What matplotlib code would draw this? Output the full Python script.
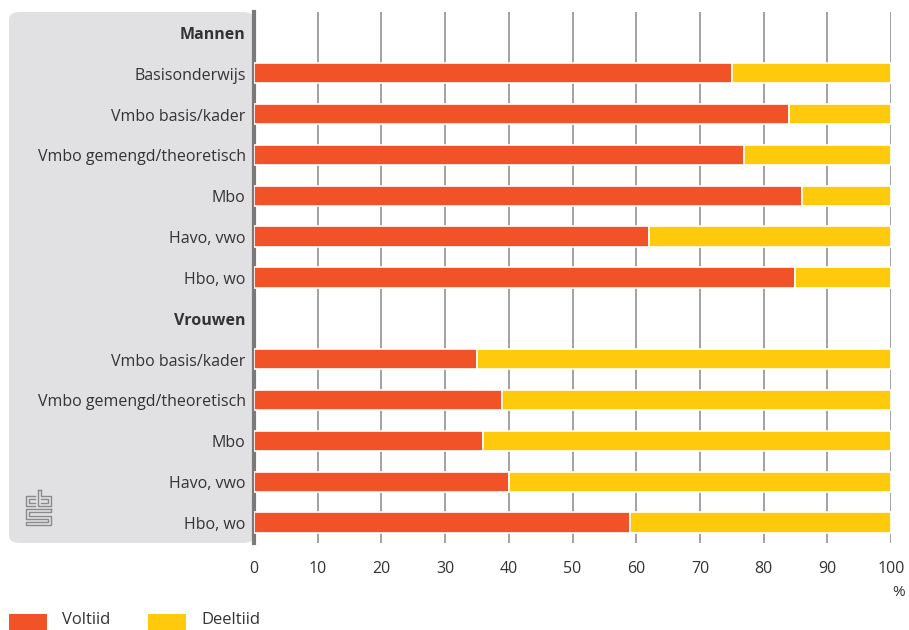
import matplotlib
matplotlib.use("Agg")
import matplotlib.pyplot as plt
from matplotlib.patches import FancyBboxPatch, Rectangle
from matplotlib.lines import Line2D

categories = ["Mannen", "Basisonderwijs", "Vmbo basis/kader", "Vmbo gemengd/theoretisch",
              "Mbo", "Havo, vwo", "Hbo, wo", "Vrouwen", "Vmbo basis/kader",
              "Vmbo gemengd/theoretisch", "Mbo", "Havo, vwo", "Hbo, wo"]
headers = ["Mannen", "Vrouwen"]
voltijd = [None, 75, 84, 77, 86, 62, 85, None, 35, 39, 36, 40, 59]
deeltijd = [None, 25, 16, 23, 14, 38, 15, None, 65, 61, 64, 60, 41]
xticks = [0, 10, 20, 30, 40, 50, 60, 70, 80, 90, 100]
series_names = ["Voltiid", "Deeltiid"]

RED = "#f15227"
YEL = "#ffca0b"
TXT = "#333333"
FONT = "Open Sans"

W, H = 909, 630
fig = plt.figure(figsize=(W / 100, H / 100), dpi=100)

x0, x1 = 254, 891
ytop, ybot = 12, 543
ax = fig.add_axes([x0 / W, 1 - ybot / H, (x1 - x0) / W, (ybot - ytop) / H])
ax.set_zorder(2)

# grey label panel
panel = FancyBboxPatch((9 / W, 1 - ybot / H), (x0 - 9) / W, (ybot - ytop) / H,
                       boxstyle="round,pad=0,rounding_size=0.012",
                       transform=fig.transFigure, facecolor="#e1e1e3",
                       edgecolor="none", zorder=-1)
fig.patches.append(panel)

n = len(categories)
ys = list(range(n))
for i in ys:
    if voltijd[i] is None:
        continue
    ax.barh(i, voltijd[i], height=0.5, color=RED, edgecolor="white", linewidth=1.2, zorder=3)
    ax.barh(i, deeltijd[i], left=voltijd[i], height=0.5, color=YEL, edgecolor="white",
            linewidth=1.2, zorder=3)

ax.set_xlim(0, 100)
ax.set_ylim(n - 0.5, -0.5)
ax.set_xticks(xticks)
ax.set_xticklabels([str(t) for t in xticks], fontsize=11.5, color=TXT, family=FONT)
ax.tick_params(axis="x", length=0, pad=13)
ax.set_yticks([])
for t in xticks[1:]:
    ax.axvline(t, color="#9a9a9a", lw=1.3, zorder=1)
for s in ["top", "right", "bottom"]:
    ax.spines[s].set_visible(False)
ax.spines["left"].set_color("#7a7a7a")
ax.spines["left"].set_linewidth(3)
ax.patch.set_alpha(0)

for i, c in enumerate(categories):
    bold = c in headers and voltijd[i] is None
    ax.text(-0.013, i + 0.06, c, transform=ax.get_yaxis_transform(), ha="right", va="center",
            fontsize=11.5, color=TXT, family=FONT, fontweight="bold" if bold else "normal",
            clip_on=False)

fig.text(905 / W, 1 - 593 / H, "%", ha="right", va="center", fontsize=11, color=TXT, family=FONT)

# legend
for k, (name, col, lx) in enumerate(zip(series_names, [RED, YEL], [9, 148])):
    fig.patches.append(Rectangle((lx / W, 0), 38 / W, 16 / H, transform=fig.transFigure,
                                 facecolor=col, edgecolor="none"))
    fig.text((lx + 53) / W, 1 - 620 / H, name, ha="left", va="center", fontsize=12,
             color=TXT, family=FONT)

# simple cbs-like logo
lc = "#8a8a8a"
def seg(xs, ys_):
    fig.add_artist(Line2D([x / W for x in xs], [1 - y / H for y in ys_], color=lc, lw=1.0))
# "c"
seg([35, 26, 26, 35], [496, 496, 506, 506])
seg([35, 29, 29, 35], [499, 499, 503, 503])
# "b"
seg([38, 38, 51, 51, 41, 41], [490, 506, 506, 496, 496, 490])
seg([38, 41], [490, 490])
seg([41, 48, 48, 41], [499, 499, 503, 503])
# "s"
seg([51, 26, 26, 48, 48, 26, 26, 51, 51, 29, 29, 51, 51], [509, 509, 519, 519, 522, 522, 525, 525, 516, 516, 512, 512, 509])

fig.savefig("out.png", dpi=100)
